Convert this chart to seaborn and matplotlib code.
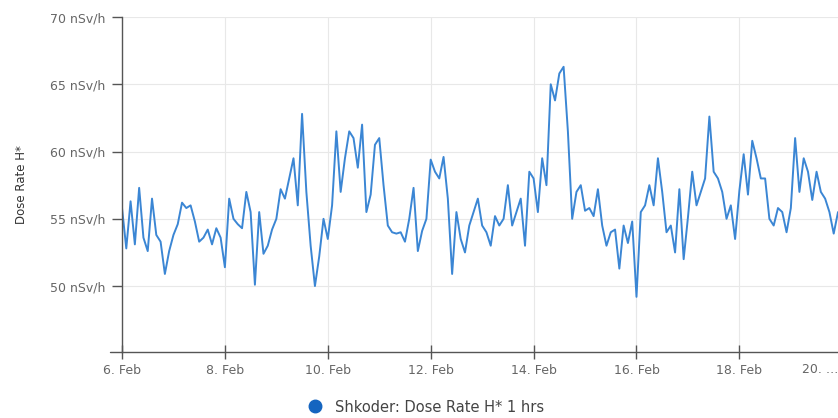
import matplotlib
matplotlib.use("Agg")
import matplotlib.pyplot as plt
import matplotlib.dates as mdates
from matplotlib.lines import Line2D
import numpy as np
import pandas as pd
import seaborn as sns

# Two-hourly dose rate readings (nSv/h), one list per day
feb06 = [55.8, 52.8, 56.3, 53.1, 57.3, 53.6, 52.6, 56.5, 53.8, 53.3, 50.9, 52.6]
feb07 = [53.8, 54.6, 56.2, 55.8, 56.0, 54.8, 53.3, 53.6, 54.2, 53.1, 54.3, 53.6]
feb08 = [51.4, 56.5, 55.0, 54.6, 54.3, 57.0, 55.5, 50.1, 55.5, 52.4, 53.0, 54.2]
feb09 = [55.0, 57.2, 56.5, 58.0, 59.5, 56.0, 62.8, 57.0, 53.0, 50.0, 52.2, 55.0]
feb10 = [53.5, 56.0, 61.5, 57.0, 59.5, 61.5, 61.0, 58.8, 62.0, 55.5, 56.8, 60.5]
feb11 = [61.0, 57.5, 54.5, 54.0, 53.9, 54.0, 53.3, 55.0, 57.3, 52.6, 54.1, 55.0]
feb12 = [59.4, 58.5, 58.0, 59.6, 56.5, 50.9, 55.5, 53.5, 52.5, 54.5, 55.5, 56.5]
feb13 = [54.5, 54.0, 53.0, 55.2, 54.5, 55.0, 57.5, 54.5, 55.5, 56.5, 53.0, 58.5]
feb14 = [58.0, 55.5, 59.5, 57.5, 65.0, 63.8, 65.8, 66.3, 61.5, 55.0, 57.0, 57.5]
feb15 = [55.6, 55.8, 55.2, 57.2, 54.5, 53.0, 54.0, 54.2, 51.3, 54.5, 53.2, 54.8]
feb16 = [49.2, 55.5, 56.0, 57.5, 56.0, 59.5, 57.0, 54.0, 54.5, 52.5, 57.2, 52.0]
feb17 = [55.1, 58.5, 56.0, 57.0, 58.0, 62.6, 58.5, 58.0, 57.0, 55.0, 56.0, 53.5]
feb18 = [57.1, 59.8, 56.8, 60.8, 59.5, 58.0, 58.0, 55.0, 54.5, 55.8, 55.5, 54.0]
feb19 = [55.8, 61.0, 57.0, 59.5, 58.5, 56.4, 58.5, 57.0, 56.5, 55.5, 53.9, 55.5]

days = [feb06, feb07, feb08, feb09, feb10, feb11, feb12,
        feb13, feb14, feb15, feb16, feb17, feb18, feb19]
dose = [v for day in days for v in day]
times = pd.date_range("2021-02-06 00:00", periods=len(dose), freq="2h")

y_ticks = [50, 55, 60, 65, 70]
x_ticks = pd.date_range("2021-02-06", "2021-02-18", freq="2D")
series_name = "Shkoder: Dose Rate H* 1 hrs"

df = pd.DataFrame({"time": times, "dose": dose})

sns.set_theme(style="white")
plt.rcParams["font.family"] = ["DejaVu Sans"]

fig = plt.figure(figsize=(8.38, 4.18), dpi=100)
ax = fig.add_axes([122 / 838, 1 - 352 / 418, 1 - 122 / 838, (352 - 17) / 418])

line_color = "#3b86d4"
sns.lineplot(data=df, x="time", y="dose", ax=ax, color=line_color,
             linewidth=1.4, legend=False)

ax.set_xlim(times[0], times[-1])
ax.set_ylim(45.1, 70)

ax.set_yticks(y_ticks)
ax.set_yticklabels([f"{v} nSv/h" for v in y_ticks])
ax.set_xticks(x_ticks)
ax.xaxis.set_major_formatter(mdates.DateFormatter("%-d. %b"))

ax.grid(True, color="#e8e8e8", linewidth=0.8)
ax.set_axisbelow(True)

for side in ("top", "right"):
    ax.spines[side].set_visible(False)
for side in ("left", "bottom"):
    ax.spines[side].set_color("#555555")
    ax.spines[side].set_linewidth(1.0)

# x axis line runs a little past the y axis on the left
ax.plot([-12 / 716, 0], [0, 0], transform=ax.transAxes, clip_on=False,
        color="#555555", linewidth=1.0)

ax.tick_params(axis="y", direction="out", length=7, width=1, color="#555555",
               labelsize=9, labelcolor="#666666", pad=5, left=True)
ax.tick_params(axis="x", direction="inout", length=10, width=1, color="#555555",
               labelsize=9, labelcolor="#666666", pad=4, bottom=True)

ax.set_xlabel("")
ax.set_ylabel("Dose Rate H*", fontsize=8.5, color="#333333", labelpad=16)

# the last date label is clipped at the chart edge
ax.text(1.0, -0.032, "20. \u2026", transform=ax.transAxes, ha="right", va="top",
        fontsize=9, color="#666666")

handle = Line2D([], [], linestyle="none", marker="o", markersize=9,
                markerfacecolor="#1565c0", markeredgecolor="#1565c0")
fig.legend([handle], [series_name], loc="center",
           bbox_to_anchor=(422 / 838, 1 - 407 / 418), frameon=False,
           fontsize=10.5, labelcolor="#444444", handletextpad=0.4)

fig.savefig("out.png", dpi=100)
